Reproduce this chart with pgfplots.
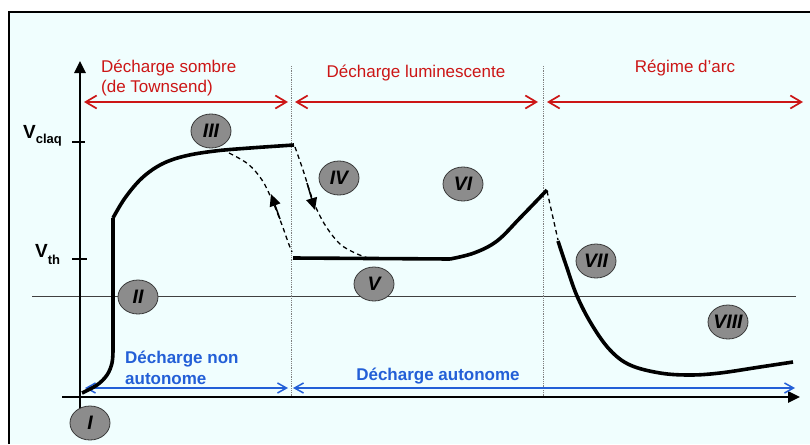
\documentclass[border=0pt]{standalone}
\usepackage{pgfplots}
\pgfplotsset{compat=1.18}
\usetikzlibrary{arrows.meta}
\usepackage{fontspec}
\setmainfont{Liberation Sans}
\definecolor{bgc}{RGB}{240,254,254}
\definecolor{redc}{RGB}{204,22,22}
\definecolor{bluec}{RGB}{35,95,215}
\definecolor{cfill}{RGB}{140,140,140}
\definecolor{cdraw}{RGB}{55,55,55}
\newcommand{\lbl}{\fontsize{17}{20}\selectfont}
\newcommand{\rom}{\fontsize{19.5}{20}\selectfont\bfseries\itshape}
\begin{document}
\begin{tikzpicture}
\begin{axis}[width=810pt,height=444pt,scale only axis,
  xmin=0,xmax=810,ymin=0,ymax=444,y dir=reverse,
  axis lines=none,clip=false,
  every axis plot/.append style={no markers}]
% background and frame
\fill[white] (axis cs:0,0) rectangle (axis cs:810,444);
\fill[bgc] (axis cs:9,12) rectangle (axis cs:810,444);
\draw[line width=2.6pt] (axis cs:9,444) -- (axis cs:9,12) -- (axis cs:810,12);
% thin horizontal reference
\addplot[line width=0.9pt,black!75] coordinates {(32,296) (796,296)};
% dotted separators
\addplot[line width=0.8pt,gray,densely dotted] coordinates {(291,66) (291,397)};
\addplot[line width=0.8pt,gray,densely dotted] coordinates {(543,66) (543,397)};
% axes
\addplot[line width=2.6pt,-{Triangle[length=12pt,width=11pt]}] coordinates {(80,410) (80,61)};
\addplot[line width=2.6pt,-{Triangle[length=12pt,width=11pt]}] coordinates {(62,397) (800,397)};
\addplot[line width=2.6pt] coordinates {(72,142) (85,142)};
\addplot[line width=2.6pt] coordinates {(72,259) (87,259)};
% red region arrows
\addplot[redc,line width=1.7pt,{Straight Barb[length=11pt,width=13pt]}-{Straight Barb[length=11pt,width=13pt]}] coordinates {(84,102) (288,102)};
\addplot[redc,line width=1.7pt,{Straight Barb[length=11pt,width=13pt]}-{Straight Barb[length=11pt,width=13pt]}] coordinates {(295,102) (538,102)};
\addplot[redc,line width=1.7pt,{Straight Barb[length=11pt,width=13pt]}-{Straight Barb[length=11pt,width=13pt]}] coordinates {(547,102) (803,102)};
% blue arrows
\addplot[bluec,line width=1.5pt,{Straight Barb[length=9pt,width=10pt]}-{Straight Barb[length=9pt,width=10pt]}] coordinates {(85,388) (288,388)};
\addplot[bluec,line width=1.5pt,{Straight Barb[length=9pt,width=10pt]}-{Straight Barb[length=9pt,width=10pt]}] coordinates {(293,388) (795,388)};
% main curve
\addplot[line width=3.6pt,smooth,tension=0.6] coordinates {(82,393) (97,385) (107,375) (112,363) (113,350)};
\addplot[line width=3.6pt] coordinates {(113,352) (113,218)};
\addplot[line width=3.6pt,smooth,tension=0.6] coordinates {(113,218) (125,198) (142,178) (162,164) (185,156) (215,151) (250,148) (294,145)};
\addplot[line width=3.6pt] coordinates {(293,258) (450,259)};
\addplot[line width=3.6pt,smooth,tension=0.6] coordinates {(450,259) (474,253) (497,241) (520,218) (547,190)};
\addplot[line width=3.6pt,smooth,tension=0.6] coordinates {(558,241) (566,265) (577,296) (592,325) (610,350) (630,365) (660,373) (690,375) (720,373) (760,367) (793,362)};
% dashed paths
\addplot[line width=1.3pt,dash pattern=on 4.5pt off 3.5pt,smooth,tension=0.6] coordinates {(229,153) (248,164) (262,180) (272,200) (282,225) (288,242) (292,252)};
\addplot[line width=1.3pt,dash pattern=on 4.5pt off 3.5pt,smooth,tension=0.6] coordinates {(295,147) (303,170) (311,195) (318,212) (327,228) (340,244) (355,253) (368,258)};
\addplot[line width=1.3pt,dash pattern=on 4.5pt off 3.5pt] coordinates {(547,191) (558,240)};
\addplot[line width=1.5pt,-{Triangle[length=12pt,width=11pt]}] coordinates {(280,219) (271,194)};
\addplot[line width=1.5pt,-{Triangle[length=12pt,width=11pt]}] coordinates {(307,183) (315,210)};
% numbered ellipses
\foreach \x/\y/\t in {90/423/I,138/297/II,211/131/III,339/178/IV,374/284/V,463/184/VI,596/261/VII,728/322/VIII}{
  \edef\tmp{\noexpand\filldraw[fill=cfill,draw=cdraw,line width=0.8pt] (axis cs:\x,\y) ellipse [x radius=20pt,y radius=17pt];
  \noexpand\node[font=\noexpand\rom,inner sep=0pt] at (axis cs:\x,\y) {\t};}
  \tmp
}
% red texts
\node[redc,anchor=base west,inner sep=0pt,font=\lbl] at (axis cs:101,72) {Décharge sombre};
\node[redc,anchor=base west,inner sep=0pt,font=\lbl] at (axis cs:101,92) {(de Townsend)};
\node[redc,anchor=base,inner sep=0pt,font=\lbl] at (axis cs:416,77) {Décharge luminescente};
\node[redc,anchor=base,inner sep=0pt,font=\lbl] at (axis cs:685,72) {Régime d’arc};
% blue texts
\node[bluec,anchor=base west,inner sep=0pt,font=\lbl\bfseries] at (axis cs:125,363) {Décharge non};
\node[bluec,anchor=base west,inner sep=0pt,font=\lbl\bfseries] at (axis cs:125,384) {autonome};
\node[bluec,anchor=base,inner sep=0pt,font=\lbl\bfseries] at (axis cs:438,380) {Décharge autonome};
% axis value labels
\node[anchor=base west,inner sep=0pt] at (axis cs:23,138) {\fontsize{19}{20}\selectfont\bfseries V\raisebox{-5pt}{\fontsize{13}{14}\selectfont claq}};
\node[anchor=base west,inner sep=0pt] at (axis cs:35,257) {\fontsize{19}{20}\selectfont\bfseries V\raisebox{-7pt}{\fontsize{13}{14}\selectfont th}};
\end{axis}
\pgfresetboundingbox
\path (current axis.south west) rectangle (current axis.north east);
\end{tikzpicture}
\end{document}
